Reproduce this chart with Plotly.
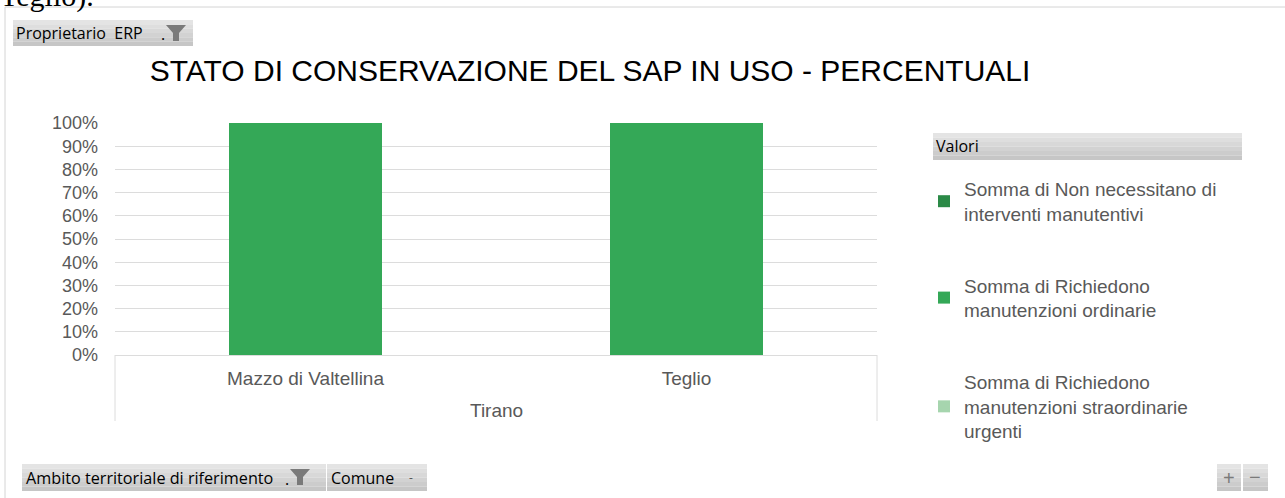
import plotly.graph_objects as go

# ---------------- data ----------------
group_name = "Tirano"
comuni = ["Mazzo di Valtellina", "Teglio"]
series_names = [
    "Somma di Non necessitano di<br>interventi manutentivi",
    "Somma di Richiedono<br>manutenzioni ordinarie",
    "Somma di Richiedono<br>manutenzioni straordinarie<br>urgenti",
]
val_non_necessitano = [0, 0]
val_ordinarie = [100, 100]
val_straordinarie = [0, 0]
series_values = [val_non_necessitano, val_ordinarie, val_straordinarie]
series_colors = ["#2b8a47", "#34a857", "#a6d5ae"]
y_tickvals = [0, 10, 20, 30, 40, 50, 60, 70, 80, 90, 100]
y_ticktext = ["%d%%" % v for v in y_tickvals]

title_text = "STATO DI CONSERVAZIONE DEL SAP IN USO - PERCENTUALI"
legend_header = "Valori"
filter_top = "Proprietario  ERP"
filter_bottom = "Ambito territoriale di riferimento"
field_bottom = "Comune"
doc_text = "Teglio)."

# ---------------- geometry ----------------
W, H = 1285, 498
L, R, T, B = 115, 877, 123, 355


def px(x):
    return (x - L) / (R - L)


def py(y):
    return (B - y) / (B - T)


fig = go.Figure()
for name, vals, col in zip(series_names, series_values, series_colors):
    fig.add_trace(go.Bar(
        x=comuni, y=vals, name=name, marker=dict(color=col, line=dict(width=0)),
        width=0.4, legendgroup=name,
    ))

shapes = []
annotations = []

# outer frame
shapes.append(dict(type="line", xref="paper", yref="paper", x0=px(5), x1=px(1290),
                   y0=py(7), y1=py(7), line=dict(color="#d4d4d4", width=1)))
shapes.append(dict(type="line", xref="paper", yref="paper", x0=px(5), x1=px(5),
                   y0=py(7), y1=py(505), line=dict(color="#d4d4d4", width=1)))

# category group box (outer group level of the axis)
for xe in (0, 1):
    shapes.append(dict(type="line", xref="paper", yref="paper", x0=xe, x1=xe,
                       y0=0, y1=py(421), line=dict(color="#dcdcdc", width=1)))
annotations.append(dict(xref="paper", yref="paper", x=0.5, y=py(410), text=group_name,
                        showarrow=False, xanchor="center", yanchor="middle",
                        font=dict(size=19, color="#595959", family="Liberation Sans")))


def gray_box(x0, y0, x1, y1):
    n = 6
    top = (228, 228, 228)
    bot = (198, 198, 198)
    for i in range(n):
        f = i / (n - 1)
        c = tuple(int(top[k] + (bot[k] - top[k]) * f) for k in range(3))
        ya = y0 + (y1 - y0) * i / n
        yb = y0 + (y1 - y0) * (i + 1) / n
        shapes.append(dict(type="rect", xref="paper", yref="paper",
                           x0=px(x0), x1=px(x1), y0=py(ya), y1=py(yb),
                           fillcolor="rgb(%d,%d,%d)" % c, line=dict(width=0), layer="below"))


def funnel(cx, cy):
    pts = [(cx - 10, cy - 8), (cx + 10, cy - 8), (cx + 3, cy), (cx + 3, cy + 8),
           (cx - 3, cy + 8), (cx - 3, cy)]
    path = "M " + " L ".join("%f,%f" % (px(a), py(b)) for a, b in pts) + " Z"
    shapes.append(dict(type="path", xref="paper", yref="paper", path=path,
                       fillcolor="#7a7a7a", line=dict(width=0)))


def label(x, y, text, size=16, color="#000000", family="Open Sans", xanchor="left"):
    annotations.append(dict(xref="paper", yref="paper", x=px(x), y=py(y), text=text,
                            showarrow=False, xanchor=xanchor, yanchor="middle",
                            font=dict(size=size, color=color, family=family)))


# top filter button
gray_box(13, 20, 193, 46)
label(14, 33, filter_top)
label(159, 34, ".")
funnel(176, 33)

# bottom filter buttons
gray_box(22, 464, 326, 491)
label(24, 478, filter_bottom, size=16.2)
label(283, 479, ".")
funnel(300, 477)
gray_box(327, 464, 427, 491)
label(329, 478, field_bottom)
label(407, 477, "-", size=12, color="#555555")

# +/- buttons
gray_box(1217, 464, 1241, 491)
gray_box(1243, 464, 1268, 491)
label(1229, 478, "+", size=20, color="#7a7a7a", family="Liberation Sans", xanchor="center")
label(1255, 477, "\u2212", size=20, color="#7a7a7a", family="Liberation Sans", xanchor="center")

# legend header
gray_box(933, 133, 1242, 160)
label(934, 146, legend_header, size=16)

# document text cut at top
annotations.append(dict(xref="paper", yref="paper", x=px(-2), y=py(-23), text=doc_text,
                        showarrow=False, xanchor="left", yanchor="top",
                        font=dict(size=30, color="#000000", family="Liberation Serif")))

fig.update_layout(
    width=W, height=H,
    margin=dict(l=L, r=W - R, t=T, b=H - B, pad=0),
    paper_bgcolor="white", plot_bgcolor="white",
    barmode="stack",
    title=dict(text=title_text, xref="container", x=590 / W, xanchor="center",
               yref="container", y=1 - 70 / H, yanchor="middle",
               font=dict(family="Liberation Sans", size=30, color="#000000")),
    font=dict(family="Liberation Sans", color="#595959"),
    showlegend=True,
    legend=dict(x=px(924), y=py(170), xanchor="left", yanchor="top",
                traceorder="grouped", tracegroupgap=44,
                font=dict(size=19, color="#595959", family="Liberation Sans"),
                bgcolor="rgba(0,0,0,0)"),
    shapes=shapes,
    annotations=annotations,
)
try:
    fig.update_layout(legend_maxheight=330)
except Exception:
    pass

fig.update_yaxes(range=[0, 100], tickvals=y_tickvals, ticktext=y_ticktext,
                 showgrid=True, gridcolor="#dcdcdc", gridwidth=1, zeroline=False,
                 showline=False, ticks="", ticklabelstandoff=16,
                 tickfont=dict(size=18, color="#595959"))
fig.update_xaxes(type="category", showline=True, linecolor="#dcdcdc",
                 ticks="", ticklabelstandoff=6, tickfont=dict(size=19, color="#595959"))

fig.write_html("out.html", config={"displayModeBar": False},
               post_script="document.body.style.margin='0px';")
